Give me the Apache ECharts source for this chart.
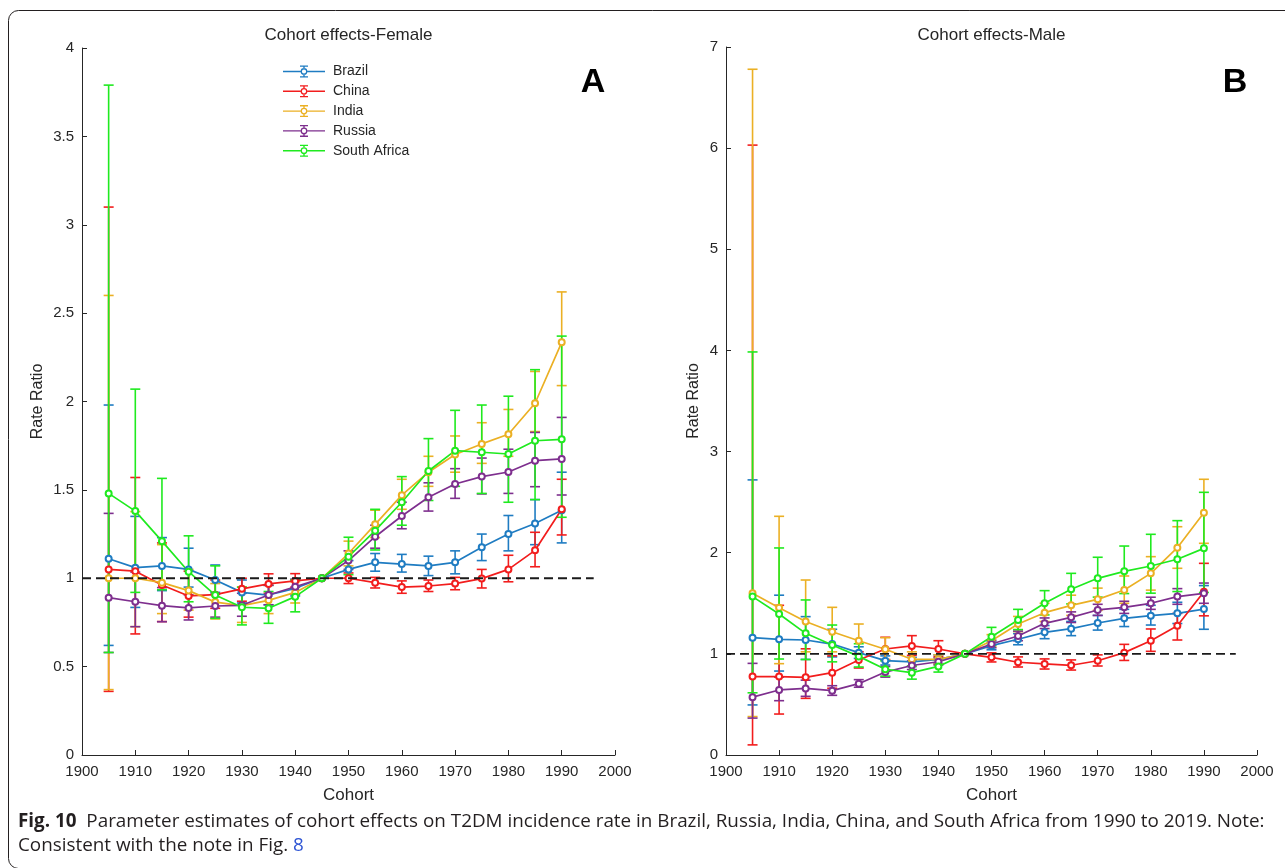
<!DOCTYPE html>
<html>
<head>
<meta charset="utf-8">
<script src="https://cdn.jsdelivr.net/npm/echarts@6/dist/echarts.min.js"></script>
<style>
  html, body { margin: 0; padding: 0; background: #fff; }
  #chart { width: 1285px; height: 868px; }
</style>
</head>
<body>
<div id="chart"></div>
<script>
// Birth cohorts (x values)
const cohorts = [1905, 1910, 1915, 1920, 1925, 1930, 1935, 1940, 1945, 1950, 1955, 1960, 1965, 1970, 1975, 1980, 1985, 1990];
const countries = ['Brazil', 'China', 'India', 'Russia', 'South Africa'];
const xTicks = { min: 1900, max: 2000, step: 10 };
const yTicksFemale = { min: 0, max: 4, step: 0.5 };
const yTicksMale = { min: 0, max: 7, step: 1 };

// ---- Female: rate ratio with 95% CI ----
const brazilF    = [1.11, 1.06, 1.07, 1.05, 0.99, 0.92, 0.905, 0.943, 1.0, 1.05, 1.09, 1.08, 1.07, 1.09, 1.175, 1.25, 1.31, 1.385];
const brazilFLo  = [0.62, 0.835, 0.93, 0.95, 0.92, 0.86, 0.85, 0.90, 1.0, 1.0, 1.04, 1.035, 1.015, 1.025, 1.10, 1.155, 1.19, 1.20];
const brazilFHi  = [1.98, 1.35, 1.23, 1.17, 1.075, 0.99, 0.96, 0.99, 1.0, 1.10, 1.14, 1.135, 1.125, 1.155, 1.25, 1.355, 1.445, 1.60];

const chinaF     = [1.05, 1.04, 0.962, 0.90, 0.907, 0.94, 0.968, 0.985, 1.0, 1.0, 0.975, 0.95, 0.956, 0.97, 0.998, 1.05, 1.158, 1.39];
const chinaFLo   = [0.36, 0.685, 0.755, 0.78, 0.83, 0.87, 0.915, 0.95, 1.0, 0.97, 0.945, 0.915, 0.925, 0.935, 0.945, 0.98, 1.065, 1.245];
const chinaFHi   = [3.10, 1.57, 1.20, 1.04, 0.99, 1.0, 1.025, 1.026, 1.0, 1.03, 1.005, 0.985, 0.99, 1.005, 1.05, 1.13, 1.26, 1.56];

const indiaF     = [1.0, 1.0, 0.975, 0.93, 0.865, 0.845, 0.875, 0.92, 1.0, 1.14, 1.305, 1.47, 1.60, 1.70, 1.76, 1.815, 1.99, 2.335];
const indiaFLo   = [0.37, 0.726, 0.80, 0.82, 0.77, 0.75, 0.80, 0.86, 1.0, 1.07, 1.23, 1.39, 1.52, 1.60, 1.65, 1.69, 1.83, 2.09];
const indiaFHi   = [2.60, 1.377, 1.19, 1.05, 0.97, 0.95, 0.96, 0.98, 1.0, 1.21, 1.385, 1.56, 1.69, 1.805, 1.88, 1.955, 2.17, 2.62];

const russiaF    = [0.89, 0.867, 0.845, 0.832, 0.843, 0.847, 0.905, 0.952, 1.0, 1.10, 1.235, 1.352, 1.458, 1.533, 1.575, 1.601, 1.665, 1.675];
const russiaFLo  = [0.58, 0.726, 0.754, 0.764, 0.78, 0.785, 0.85, 0.91, 1.0, 1.05, 1.17, 1.28, 1.38, 1.452, 1.477, 1.48, 1.518, 1.471];
const russiaFHi  = [1.367, 1.035, 0.947, 0.906, 0.91, 0.915, 0.96, 0.995, 1.0, 1.155, 1.30, 1.43, 1.54, 1.62, 1.68, 1.73, 1.825, 1.91];

const safricaF   = [1.48, 1.38, 1.21, 1.037, 0.905, 0.836, 0.83, 0.896, 1.0, 1.122, 1.269, 1.43, 1.607, 1.722, 1.713, 1.703, 1.778, 1.786];
const safricaFLo = [0.58, 0.92, 0.935, 0.867, 0.773, 0.736, 0.745, 0.81, 1.0, 1.02, 1.16, 1.30, 1.44, 1.52, 1.48, 1.43, 1.445, 1.345];
const safricaFHi = [3.79, 2.07, 1.565, 1.24, 1.07, 0.95, 0.925, 0.99, 1.0, 1.232, 1.39, 1.575, 1.79, 1.95, 1.98, 2.03, 2.18, 2.37];

// ---- Male: rate ratio with 95% CI ----
const brazilM    = [1.16, 1.144, 1.137, 1.097, 1.012, 0.933, 0.92, 0.946, 1.0, 1.081, 1.144, 1.213, 1.249, 1.305, 1.351, 1.378, 1.401, 1.443];
const brazilMLo  = [0.495, 0.83, 0.945, 0.97, 0.955, 0.89, 0.875, 0.905, 1.0, 1.04, 1.09, 1.15, 1.18, 1.235, 1.27, 1.285, 1.30, 1.243];
const brazilMHi  = [2.72, 1.58, 1.368, 1.243, 1.07, 0.98, 0.965, 0.99, 1.0, 1.12, 1.20, 1.28, 1.32, 1.38, 1.44, 1.48, 1.51, 1.675];

const chinaM     = [0.775, 0.775, 0.768, 0.814, 0.939, 1.048, 1.078, 1.048, 1.0, 0.966, 0.917, 0.90, 0.887, 0.932, 1.012, 1.13, 1.278, 1.615];
const chinaMLo   = [0.10, 0.405, 0.56, 0.66, 0.86, 0.944, 0.985, 0.972, 1.0, 0.92, 0.87, 0.85, 0.84, 0.88, 0.935, 1.025, 1.137, 1.376];
const chinaMHi   = [6.03, 1.48, 1.05, 0.98, 1.02, 1.164, 1.18, 1.13, 1.0, 1.01, 0.97, 0.95, 0.94, 0.99, 1.094, 1.246, 1.40, 1.895];

const indiaM     = [1.60, 1.457, 1.32, 1.219, 1.13, 1.045, 0.946, 0.946, 1.0, 1.13, 1.295, 1.407, 1.48, 1.539, 1.631, 1.796, 2.05, 2.396];
const indiaMLo   = [0.38, 0.903, 1.02, 1.02, 1.0, 0.94, 0.88, 0.90, 1.0, 1.07, 1.22, 1.32, 1.38, 1.43, 1.50, 1.63, 1.846, 2.093];
const indiaMHi   = [6.78, 2.36, 1.73, 1.46, 1.295, 1.16, 1.02, 0.99, 1.0, 1.19, 1.37, 1.50, 1.58, 1.65, 1.77, 1.961, 2.257, 2.726];

const russiaM    = [0.572, 0.643, 0.658, 0.636, 0.705, 0.82, 0.885, 0.922, 1.0, 1.097, 1.177, 1.302, 1.361, 1.434, 1.46, 1.50, 1.566, 1.598];
const russiaMLo  = [0.365, 0.537, 0.58, 0.59, 0.67, 0.77, 0.845, 0.89, 1.0, 1.06, 1.13, 1.25, 1.31, 1.38, 1.40, 1.44, 1.49, 1.50];
const russiaMHi  = [0.906, 0.77, 0.74, 0.685, 0.745, 0.875, 0.93, 0.96, 1.0, 1.135, 1.225, 1.355, 1.415, 1.49, 1.52, 1.56, 1.645, 1.70];

const safricaM   = [1.566, 1.394, 1.203, 1.088, 0.975, 0.848, 0.814, 0.876, 1.0, 1.17, 1.335, 1.50, 1.638, 1.747, 1.816, 1.869, 1.935, 2.043];
const safricaMLo = [0.615, 0.949, 0.944, 0.921, 0.87, 0.78, 0.75, 0.82, 1.0, 1.085, 1.24, 1.385, 1.494, 1.561, 1.596, 1.60, 1.616, 1.607];
const safricaMHi = [3.985, 2.047, 1.533, 1.285, 1.10, 0.93, 0.88, 0.94, 1.0, 1.262, 1.44, 1.625, 1.796, 1.955, 2.066, 2.182, 2.317, 2.597];

const refLine = { y: 1, from: 1900, to: 1996 };

// MATLAB-like line colours
const palette = ['#1f7cc2', '#f21d1d', '#ebb024', '#7e2f8e', '#1fea1f'];
const inkColor = '#262626';
const axisFont = 'Liberation Sans, Arial, Helvetica, sans-serif';

const panels = [
  { est: [brazilF, chinaF, indiaF, russiaF, safricaF],
    lo:  [brazilFLo, chinaFLo, indiaFLo, russiaFLo, safricaFLo],
    hi:  [brazilFHi, chinaFHi, indiaFHi, russiaFHi, safricaFHi] },
  { est: [brazilM, chinaM, indiaM, russiaM, safricaM],
    lo:  [brazilMLo, chinaMLo, indiaMLo, russiaMLo, safricaMLo],
    hi:  [brazilMHi, chinaMHi, indiaMHi, russiaMHi, safricaMHi] }
];

const capHalf = 5;

function errorBarRenderer(color) {
  return function (params, api) {
    const x = api.value(0), lo = api.value(1), hi = api.value(2);
    if (lo === hi) return null;
    const a = api.coord([x, lo]);
    const b = api.coord([x, hi]);
    const style = { stroke: color, lineWidth: 1.6, fill: null };
    return {
      type: 'group',
      children: [
        { type: 'line', shape: { x1: a[0], y1: a[1], x2: b[0], y2: b[1] }, style },
        { type: 'line', shape: { x1: a[0] - capHalf, y1: a[1], x2: a[0] + capHalf, y2: a[1] }, style },
        { type: 'line', shape: { x1: b[0] - capHalf, y1: b[1], x2: b[0] + capHalf, y2: b[1] }, style }
      ]
    };
  };
}

const series = [];
panels.forEach((panel, p) => {
  countries.forEach((name, i) => {
    const color = palette[i];
    series.push({
      type: 'custom',
      name: name,
      xAxisIndex: p,
      yAxisIndex: p,
      itemStyle: { color: color },
      renderItem: errorBarRenderer(color),
      encode: { x: 0, y: [1, 2] },
      data: cohorts.map((c, k) => [c, panel.lo[i][k], panel.hi[i][k]]),
      silent: true,
      z: 2
    });
    series.push({
      type: 'line',
      name: name,
      xAxisIndex: p,
      yAxisIndex: p,
      data: cohorts.map((c, k) => [c, panel.est[i][k]]),
      symbol: 'emptyCircle',
      symbolSize: 6,
      showAllSymbol: true,
      color: color,
      lineStyle: { color: color, width: 1.7 },
      itemStyle: { color: color, borderWidth: 1.5 },
      silent: true,
      z: 2
    });
  });
  series.push({
    type: 'line',
    name: 'RR = 1',
    xAxisIndex: p,
    yAxisIndex: p,
    data: [[refLine.from, refLine.y], [refLine.to, refLine.y]],
    symbol: 'none',
    lineStyle: { color: '#1a1a1a', width: 1.8, type: [9, 5] },
    silent: true,
    z: 3
  });
});

const tickFontSize = 15;
const titleFontSize = 17;
const yNameFontSize = 16;

function xAxisDef(gridIndex) {
  return {
    gridIndex: gridIndex,
    type: 'value',
    min: xTicks.min, max: xTicks.max, interval: xTicks.step,
    name: 'Cohort',
    nameLocation: 'middle',
    nameGap: 32,
    nameTextStyle: { fontSize: titleFontSize, color: inkColor, fontFamily: axisFont },
    axisLine: { show: true, lineStyle: { color: inkColor, width: 1 } },
    axisTick: { show: true, inside: true, length: 5, lineStyle: { color: inkColor } },
    axisLabel: { fontSize: tickFontSize, color: inkColor, fontFamily: axisFont, margin: 9, formatter: v => String(v) },
    splitLine: { show: false }
  };
}
function yAxisDef(gridIndex, ticks, gap) {
  return {
    gridIndex: gridIndex,
    type: 'value',
    min: ticks.min, max: ticks.max, interval: ticks.step,
    name: 'Rate Ratio',
    nameLocation: 'middle',
    nameGap: gap,
    nameTextStyle: { fontSize: yNameFontSize, color: inkColor, fontFamily: axisFont },
    axisLine: { show: true, lineStyle: { color: inkColor, width: 1 } },
    axisTick: { show: true, inside: true, length: 5, lineStyle: { color: inkColor } },
    axisLabel: { fontSize: tickFontSize, color: inkColor, fontFamily: axisFont, margin: 8, formatter: v => String(v) },
    splitLine: { show: false }
  };
}

// Legend glyph: line through an error bar with an open circle marker
const legendGlyph = 'path://' +
  'M0 5.3H17.6V6.7H0Z M24.4 5.3H42V6.7H24.4Z ' +
  'M20.3 1H21.7V2.7H20.3Z M20.3 9.3H21.7V11H20.3Z ' +
  'M17 0H25V1.3H17Z M17 10.7H25V12H17Z ' +
  'M17.6 6A3.4 3.4 0 1 0 24.4 6A3.4 3.4 0 1 0 17.6 6Z ' +
  'M18.9 6A2.1 2.1 0 1 1 23.1 6A2.1 2.1 0 1 1 18.9 6Z';

// Caption text, sized so the first line spans the figure width
const captionBold = 'Fig. 10';
const captionLine1 = '  Parameter estimates of cohort effects on T2DM incidence rate in Brazil, Russia, India, China, and South Africa from 1990 to 2019. Note:';
const captionLine2 = 'Consistent with the note in Fig. ';
const captionLink = '8';
const captionFont = '"Open Sans", "Noto Sans", sans-serif';
const captionWidth = 1247;
const meas = document.createElement('canvas').getContext('2d');
meas.font = 'bold 16px ' + captionFont;
const wBold = meas.measureText(captionBold).width;
meas.font = '16px ' + captionFont;
const wRest = meas.measureText(captionLine1).width;
const captionSize = Math.min(20, 16 * captionWidth / (wBold + wRest));

const chart = echarts.init(document.getElementById('chart'), null, { renderer: 'canvas' });
chart.setOption({
  backgroundColor: '#ffffff',
  animation: false,
  grid: [
    { left: 82, right: 670, top: 48, bottom: 113, containLabel: false },
    { left: 726, right: 28, top: 47, bottom: 113, containLabel: false }
  ],
  xAxis: [xAxisDef(0), xAxisDef(1)],
  yAxis: [yAxisDef(0, yTicksFemale, 36), yAxisDef(1, yTicksMale, 24)],
  legend: {
    data: countries,
    orient: 'vertical',
    left: 278,
    top: 59.5,
    itemWidth: 42,
    itemHeight: 12,
    itemGap: 5.8,
    icon: legendGlyph,
    selectedMode: false,
    itemStyle: { borderWidth: 0 },
    textStyle: { fontSize: 14, color: inkColor, fontFamily: axisFont, padding: [0, 0, 0, 3] }
  },
  series: series,
  graphic: [
    { type: 'rect', shape: { x: 8.5, y: 10.5, width: 1320, height: 858, r: 10 },
      style: { fill: null, stroke: '#231f20', lineWidth: 1 }, silent: true },
    { type: 'text', x: 348.5, y: 35, style: { text: 'Cohort effects-Female', fontSize: titleFontSize, fontFamily: axisFont,
      fill: inkColor, textAlign: 'center', textVerticalAlign: 'middle' } },
    { type: 'text', x: 991.5, y: 35, style: { text: 'Cohort effects-Male', fontSize: titleFontSize, fontFamily: axisFont,
      fill: inkColor, textAlign: 'center', textVerticalAlign: 'middle' } },
    { type: 'text', x: 593, y: 83, style: { text: 'A', fontSize: 34, fontWeight: 'bold', fontFamily: axisFont,
      fill: '#000', textAlign: 'center', textVerticalAlign: 'middle' } },
    { type: 'text', x: 1235, y: 83, style: { text: 'B', fontSize: 34, fontWeight: 'bold', fontFamily: axisFont,
      fill: '#000', textAlign: 'center', textVerticalAlign: 'middle' } },
    { type: 'text', x: 18, y: 822, style: {
      text: '{b|' + captionBold + '}' + captionLine1,
      fontSize: captionSize, fontFamily: captionFont, fill: '#231f20', textVerticalAlign: 'middle',
      rich: { b: { fontWeight: 'bold', fontSize: captionSize, fontFamily: captionFont, fill: '#231f20' } } } },
    { type: 'text', x: 18, y: 846, style: {
      text: captionLine2 + '{a|' + captionLink + '}',
      fontSize: captionSize, fontFamily: captionFont, fill: '#231f20', textVerticalAlign: 'middle',
      rich: { a: { fontSize: captionSize, fontFamily: captionFont, fill: '#2f55d4' } } } }
  ]
});
</script>
</body>
</html>
